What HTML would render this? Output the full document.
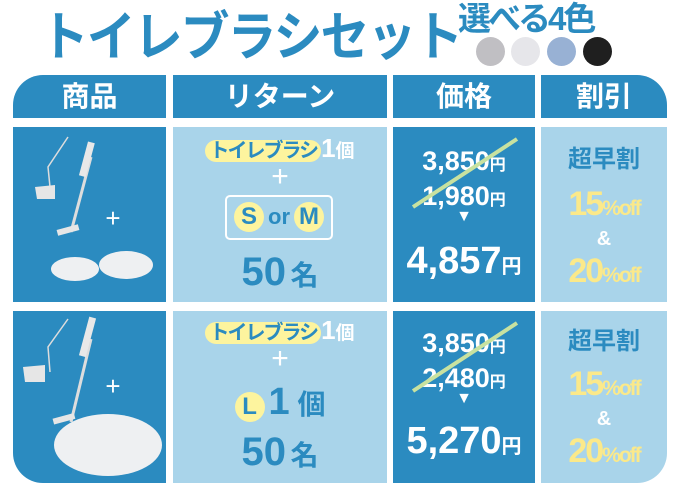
<!DOCTYPE html><html><head><meta charset="utf-8"><style>
*{margin:0;padding:0;box-sizing:border-box}
body{width:680px;height:500px;background:#fff;position:relative;overflow:hidden;font-family:"Liberation Sans","Noto Sans CJK JP",sans-serif;font-weight:bold}
.a{position:absolute}
.d{background:#2b8bc0}.l{background:#a9d4ea}
.c{position:absolute;text-align:center;white-space:nowrap}
.h{color:#fff;font-size:28px;line-height:43px;top:75px;height:43px;text-align:center}
.w{color:#fff}.b{color:#2b8bc0}.y{color:#fbe98a}
.pill{background:#fdf49e;border-radius:12px;padding:0 4px;color:#2b8bc0;font-size:20px;letter-spacing:-2px}
.circ{display:inline-block;width:30px;height:30px;border-radius:50%;background:#fdf49e;color:#2b8bc0;line-height:30px;font-size:24px}
</style></head><body>
<div class="a b" style="left:40px;top:6px;font-size:53px;letter-spacing:-2px;line-height:64px;transform:scaleX(0.92);transform-origin:0 0">トイレブラシセット</div>
<div class="a b" style="left:458px;top:0px;font-size:33px;line-height:38px;letter-spacing:-3px">選べる4色</div>
<div class="a" style="left:476px;top:37px;width:29px;height:29px;border-radius:50%;background:#c0bfc3"></div>
<div class="a" style="left:511px;top:37px;width:29px;height:29px;border-radius:50%;background:#e6e6ea"></div>
<div class="a" style="left:547px;top:37px;width:29px;height:29px;border-radius:50%;background:#98b1d4"></div>
<div class="a" style="left:583px;top:37px;width:29px;height:29px;border-radius:50%;background:#1f1f1f"></div>

<div class="a d h" style="left:13px;width:153px;border-top-left-radius:30px">商品</div>
<div class="a d h" style="left:173px;width:214px">リターン</div>
<div class="a d h" style="left:393px;width:142px">価格</div>
<div class="a d h" style="left:541px;width:126px;border-top-right-radius:30px">割引</div>

<div class="a d" style="left:13px;top:127px;width:153px;height:175px"></div>
<div class="a l" style="left:173px;top:127px;width:214px;height:175px"></div>
<div class="a d" style="left:393px;top:127px;width:142px;height:175px"></div>
<div class="a l" style="left:541px;top:127px;width:126px;height:175px"></div>
<div class="a d" style="left:13px;top:311px;width:153px;height:172px;border-bottom-left-radius:30px"></div>
<div class="a l" style="left:173px;top:311px;width:214px;height:172px"></div>
<div class="a d" style="left:393px;top:311px;width:142px;height:172px"></div>
<div class="a l" style="left:541px;top:311px;width:126px;height:172px;border-bottom-right-radius:30px"></div>

<svg class="a" style="left:13px;top:127px" width="153" height="356">
<g stroke="#ddd" fill="none" stroke-width="1.5"><path d="M55 10 L35 40 L37 60"/><path d="M78 30 L58 105" stroke-width="3"/></g>
<rect x="71" y="15" width="7" height="35" fill="#e8e8e8" transform="rotate(15 75 30)"/>
<path d="M22 60 L42 58 L42 72 L24 72Z" fill="#e6e6e6"/>
<rect x="44" y="100" width="22" height="6" fill="#e6e6e6" transform="rotate(-15 55 103)"/>
<text x="100" y="100" fill="#fff" font-size="26" font-weight="normal" text-anchor="middle">+</text>
<ellipse cx="62" cy="142" rx="24" ry="12" fill="#eef0f2"/><ellipse cx="113" cy="138" rx="27" ry="14" fill="#eef0f2"/>
<g stroke="#ddd" fill="none" stroke-width="1.5"><path d="M55 192 L35 220 L37 245"/><path d="M78 212 L58 295" stroke-width="3"/></g>
<rect x="71" y="190" width="7" height="40" fill="#e8e8e8" transform="rotate(15 75 210)"/>
<path d="M10 240 L32 238 L32 255 L12 255Z" fill="#e6e6e6"/>
<rect x="40" y="289" width="22" height="6" fill="#e6e6e6" transform="rotate(-15 50 292)"/>
<text x="100" y="268" fill="#fff" font-size="26" font-weight="normal" text-anchor="middle">+</text>
<ellipse cx="95" cy="318" rx="54" ry="31" fill="#eef0f2"/>
</svg>

<!-- row1 col2 -->
<div class="c" style="left:173px;width:214px;top:135px;line-height:26px"><span class="pill">トイレブラシ</span><span class="w" style="font-size:26px">1</span><span class="w" style="font-size:19px">個</span></div>
<div class="c w" style="left:173px;width:214px;top:162px;font-size:30px;font-weight:normal;line-height:30px">+</div>
<div class="a" style="left:225px;top:195px;width:108px;height:45px;border:2px solid #fff;border-radius:5px"></div>
<div class="c" style="left:225px;width:108px;top:202px;line-height:30px"><span class="circ">S</span><span class="b" style="font-size:22px;margin:0 4px">or</span><span class="circ">M</span></div>
<div class="c b" style="left:173px;width:214px;top:248px;line-height:48px"><span style="font-size:40px">50</span> <span style="font-size:28px">名</span></div>
<!-- row1 col3 -->
<div class="c w" style="left:393px;width:142px;top:146px;font-size:27px;line-height:30px">3,850<span style="font-size:16px">円</span><br>1,980<span style="font-size:16px">円</span></div>
<svg class="a" style="left:393px;top:127px" width="142" height="175"><line x1="20" y1="80" x2="124" y2="12" stroke="#c8e2a0" stroke-width="4"/></svg>
<div class="c w" style="left:393px;width:142px;top:208px;font-size:16px">▼</div>
<div class="c w" style="left:393px;width:142px;top:240px;font-size:38px;line-height:42px">4,857<span style="font-size:20px">円</span></div>
<!-- row1 col4 -->
<div class="c b" style="left:541px;width:126px;top:145px;font-size:24px;line-height:30px">超早割</div>
<div class="c y" style="left:541px;width:126px;top:185px;font-size:34px;line-height:38px;letter-spacing:-2px">15<span style="font-size:21px">%off</span></div>
<div class="c w" style="left:541px;width:126px;top:228px;font-size:20px">&amp;</div>
<div class="c y" style="left:541px;width:126px;top:252px;font-size:34px;line-height:38px;letter-spacing:-2px">20<span style="font-size:21px">%off</span></div>

<!-- row2 col2 -->
<div class="c" style="left:173px;width:214px;top:317px;line-height:26px"><span class="pill">トイレブラシ</span><span class="w" style="font-size:26px">1</span><span class="w" style="font-size:19px">個</span></div>
<div class="c w" style="left:173px;width:214px;top:344px;font-size:30px;font-weight:normal;line-height:30px">+</div>
<div class="c" style="left:173px;width:214px;top:382px;line-height:40px"><span class="circ">L</span><span class="b" style="font-size:38px;margin-left:4px">1</span><span class="b" style="font-size:28px"> 個</span></div>
<div class="c b" style="left:173px;width:214px;top:428px;line-height:48px"><span style="font-size:40px">50</span> <span style="font-size:28px">名</span></div>
<!-- row2 col3 -->
<div class="c w" style="left:393px;width:142px;top:328px;font-size:27px;line-height:30px">3,850<span style="font-size:16px">円</span><br>2,480<span style="font-size:16px">円</span></div>
<svg class="a" style="left:393px;top:311px" width="142" height="175"><line x1="20" y1="80" x2="124" y2="12" stroke="#c8e2a0" stroke-width="4"/></svg>
<div class="c w" style="left:393px;width:142px;top:390px;font-size:16px">▼</div>
<div class="c w" style="left:393px;width:142px;top:420px;font-size:38px;line-height:42px">5,270<span style="font-size:20px">円</span></div>
<!-- row2 col4 -->
<div class="c b" style="left:541px;width:126px;top:327px;font-size:24px;line-height:30px">超早割</div>
<div class="c y" style="left:541px;width:126px;top:365px;font-size:34px;line-height:38px;letter-spacing:-2px">15<span style="font-size:21px">%off</span></div>
<div class="c w" style="left:541px;width:126px;top:408px;font-size:20px">&amp;</div>
<div class="c y" style="left:541px;width:126px;top:432px;font-size:34px;line-height:38px;letter-spacing:-2px">20<span style="font-size:21px">%off</span></div>
</body></html>
